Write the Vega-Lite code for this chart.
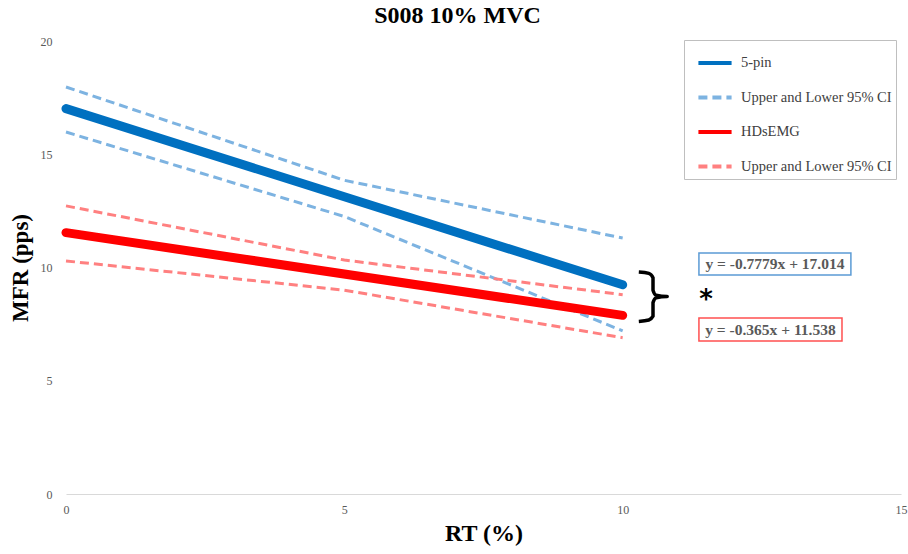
{
  "$schema": "https://vega.github.io/schema/vega-lite/v6.json",
  "width": 835,
  "height": 453,
  "autosize": {"type": "none"},
  "padding": {"left": 66, "top": 41, "right": 7, "bottom": 60},
  "background": "white",
  "config": {
    "view": {"stroke": null},
    "font": "Liberation Serif"
  },
  "title": {
    "text": "S008 10% MVC",
    "font": "Liberation Serif",
    "fontSize": 24,
    "fontWeight": "bold",
    "color": "#000000",
    "anchor": "middle",
    "dx": -26,
    "offset": 7
  },
  "datasets": {
    "fits": [
      {"series": "5-pin", "line": "5-pin", "x": 0, "y": 17.014},
      {"series": "5-pin", "line": "5-pin", "x": 10, "y": 9.235},
      {"series": "HDsEMG", "line": "HDsEMG", "x": 0, "y": 11.538},
      {"series": "HDsEMG", "line": "HDsEMG", "x": 10, "y": 7.888}
    ],
    "ci": [
      {"series": "5-pin CI", "line": "5-pin upper", "x": 0, "y": 17.97},
      {"series": "5-pin CI", "line": "5-pin upper", "x": 5, "y": 13.85},
      {"series": "5-pin CI", "line": "5-pin upper", "x": 10, "y": 11.3},
      {"series": "5-pin CI", "line": "5-pin lower", "x": 0, "y": 15.98},
      {"series": "5-pin CI", "line": "5-pin lower", "x": 5, "y": 12.25},
      {"series": "5-pin CI", "line": "5-pin lower", "x": 10, "y": 7.2},
      {"series": "HDsEMG CI", "line": "HDsEMG upper", "x": 0, "y": 12.72},
      {"series": "HDsEMG CI", "line": "HDsEMG upper", "x": 5, "y": 10.33},
      {"series": "HDsEMG CI", "line": "HDsEMG upper", "x": 10, "y": 8.8},
      {"series": "HDsEMG CI", "line": "HDsEMG lower", "x": 0, "y": 10.29},
      {"series": "HDsEMG CI", "line": "HDsEMG lower", "x": 5, "y": 9.0},
      {"series": "HDsEMG CI", "line": "HDsEMG lower", "x": 10, "y": 6.9}
    ],
    "bracket": [
      {"o": 1, "x": 10.29, "y": 9.8},
      {"o": 2, "x": 10.47, "y": 9.74},
      {"o": 3, "x": 10.545, "y": 9.55},
      {"o": 4, "x": 10.545, "y": 9.0},
      {"o": 5, "x": 10.6, "y": 8.78},
      {"o": 6, "x": 10.8, "y": 8.72},
      {"o": 7, "x": 10.6, "y": 8.66},
      {"o": 8, "x": 10.545, "y": 8.45},
      {"o": 9, "x": 10.545, "y": 7.85},
      {"o": 10, "x": 10.47, "y": 7.68},
      {"o": 11, "x": 10.29, "y": 7.62}
    ],
    "eqboxes": [
      {"series": "5-pin", "x1": 11.37, "x2": 14.1, "y1": 10.64, "y2": 9.67, "xc": 12.735, "yc": 10.155, "label": "y = -0.7779x + 17.014"},
      {"series": "HDsEMG", "x1": 11.37, "x2": 13.94, "y1": 7.77, "y2": 6.75, "xc": 12.655, "yc": 7.26, "label": "y = -0.365x + 11.538"}
    ],
    "star": [{"x": 11.5, "y": 8.55, "label": "*"}]
  },
  "layer": [
    {
      "data": {"name": "ci"},
      "mark": {"type": "line", "strokeWidth": 3, "strokeDash": [10, 6], "strokeCap": "butt", "clip": false},
      "encoding": {
        "x": {
          "field": "x", "type": "quantitative",
          "scale": {"domain": [0, 15], "nice": false, "zero": false},
          "axis": {
            "title": "RT (%)",
            "titleFont": "Liberation Serif",
            "titleFontSize": 24,
            "titleFontWeight": "bold",
            "titleColor": "#000000",
            "titlePadding": 6,
            "values": [0, 5, 10, 15],
            "grid": false,
            "ticks": false,
            "domainColor": "#D9D9D9",
            "domainWidth": 1,
            "labelFont": "Liberation Serif",
            "labelFontSize": 12,
            "labelColor": "#595959",
            "labelPadding": 10,
            "labelFlush": false
          }
        },
        "y": {
          "field": "y", "type": "quantitative",
          "scale": {"domain": [0, 20], "nice": false},
          "axis": {
            "title": "MFR (pps)",
            "titleFont": "Liberation Serif",
            "titleFontSize": 23,
            "titleFontWeight": "bold",
            "titleColor": "#000000",
            "titlePadding": 8,
            "values": [0, 5, 10, 15, 20],
            "grid": false,
            "ticks": false,
            "domain": false,
            "labelFont": "Liberation Serif",
            "labelFontSize": 12,
            "labelColor": "#595959",
            "labelPadding": 14
          }
        },
        "detail": {"field": "line"},
        "color": {
          "field": "series", "type": "nominal",
          "scale": {
            "domain": ["5-pin", "5-pin CI", "HDsEMG", "HDsEMG CI"],
            "range": ["#0070C0", "#7DB3E1", "#FF0000", "#FF8080"]
          },
          "legend": {
            "title": null,
            "orient": "none",
            "legendX": 618,
            "legendY": -1,
            "strokeColor": "#BFBFBF",
            "fillColor": "white",
            "padding": 4,
            "symbolType": "stroke",
            "symbolSize": 1100,
            "symbolOffset": 8,
            "symbolStrokeWidth": 4,
            "rowPadding": 7.5,
            "labelFont": "Liberation Serif",
            "labelFontSize": 14.5,
            "labelColor": "#404040",
            "labelOffset": 7,
            "labelLimit": 240,
            "labelExpr": "indexof(datum.label, 'CI') >= 0 ? 'Upper and Lower 95% CI\u00a0\u00a0' : datum.label"
          }
        },
        "strokeDash": {
          "field": "series", "type": "nominal",
          "scale": {
            "domain": ["5-pin", "5-pin CI", "HDsEMG", "HDsEMG CI"],
            "range": [[1, 0], [9, 5], [1, 0], [9, 5]]
          },
          "legend": null
        }
      }
    },
    {
      "data": {"name": "fits"},
      "mark": {"type": "line", "strokeWidth": 9, "strokeCap": "round"},
      "encoding": {
        "x": {"field": "x", "type": "quantitative"},
        "y": {"field": "y", "type": "quantitative"},
        "detail": {"field": "line"},
        "color": {"field": "series", "type": "nominal"}
      }
    },
    {
      "data": {"name": "bracket"},
      "mark": {"type": "line", "color": "#000000", "strokeWidth": 3.5, "strokeJoin": "round", "interpolate": "monotone"},
      "encoding": {
        "x": {"field": "x", "type": "quantitative"},
        "y": {"field": "y", "type": "quantitative"},
        "order": {"field": "o"}
      }
    },
    {
      "data": {"name": "eqboxes"},
      "mark": {"type": "rect", "fill": "white", "strokeWidth": 1.5, "clip": false},
      "encoding": {
        "x": {"field": "x1", "type": "quantitative"},
        "x2": {"field": "x2"},
        "y": {"field": "y1", "type": "quantitative"},
        "y2": {"field": "y2"},
        "stroke": {
          "field": "series", "type": "nominal",
          "scale": {"domain": ["5-pin", "HDsEMG"], "range": ["#5B9BD5", "#FF5050"]},
          "legend": null
        }
      }
    },
    {
      "data": {"name": "eqboxes"},
      "mark": {"type": "text", "font": "Liberation Serif", "fontSize": 15.5, "fontWeight": "bold", "color": "#595959", "align": "center", "baseline": "middle", "clip": false},
      "encoding": {
        "x": {"field": "xc", "type": "quantitative"},
        "y": {"field": "yc", "type": "quantitative"},
        "text": {"field": "label"}
      }
    },
    {
      "data": {"name": "star"},
      "mark": {"type": "text", "font": "DejaVu Sans", "fontSize": 26, "fontWeight": "bold", "color": "#000000", "align": "center", "baseline": "middle"},
      "encoding": {
        "x": {"field": "x", "type": "quantitative"},
        "y": {"field": "y", "type": "quantitative"},
        "text": {"field": "label"}
      }
    }
  ]
}
